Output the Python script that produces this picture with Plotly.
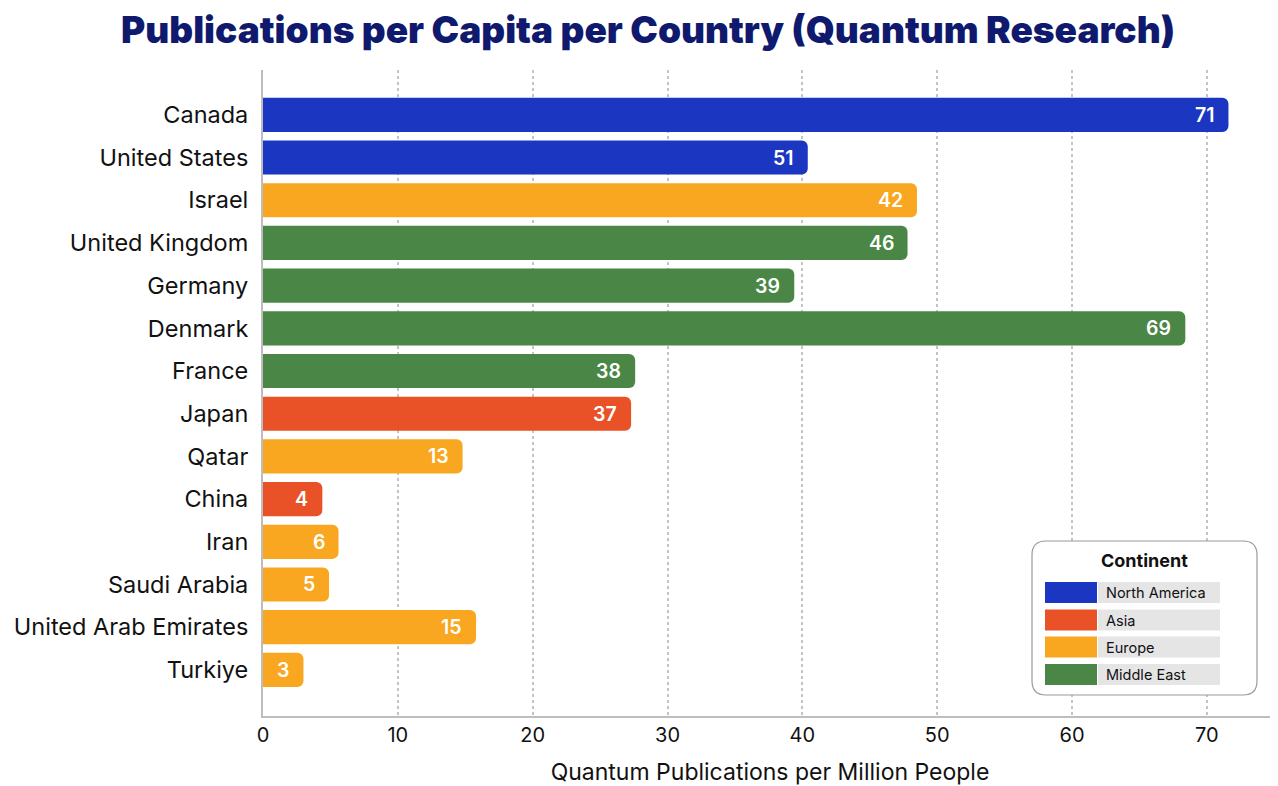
import plotly.graph_objects as go

countries = ["Canada", "United States", "Israel", "United Kingdom", "Germany", "Denmark",
             "France", "Japan", "Qatar", "China", "Iran", "Saudi Arabia",
             "United Arab Emirates", "Turkiye"]
bar_values = [71.6, 40.4, 48.5, 47.8, 39.4, 68.4, 27.6, 27.3, 14.8, 4.4, 5.6, 4.9, 15.8, 3.0]
label_values = ["71", "51", "42", "46", "39", "69", "38", "37", "13", "4", "6", "5", "15", "3"]
continent = ["North America", "North America", "Europe", "Middle East", "Middle East", "Middle East",
             "Middle East", "Asia", "Europe", "Asia", "Europe", "Europe", "Europe", "Europe"]

legend_order = ["North America", "Asia", "Europe", "Middle East"]
colors = {"North America": "#1b36c1", "Asia": "#e85226", "Europe": "#f9a720", "Middle East": "#4a8645"}
x_ticks = [0, 10, 20, 30, 40, 50, 60, 70]

FONT = "Inter"
OFF = 8  # page body margin
W, H = 1270, 778
ML, MR, MT, MB = 255, 1, 62, 70
PW, PH = W - ML - MR, H - MT - MB

def px(x):
    return (x - OFF - ML) / PW

def py(y):
    return 1 - (y - OFF - MT) / PH

fig = go.Figure()
fig.add_trace(go.Bar(
    x=bar_values, y=countries, orientation="h",
    marker=dict(color=[colors[c] for c in continent], cornerradius=6, line=dict(width=0)),
    width=0.8, showlegend=False, hoverinfo="x+y",
))

annotations = []
for c, v, t in zip(countries, bar_values, label_values):
    annotations.append(dict(x=v, y=c, xref="x", yref="y", text=t, showarrow=False,
                            xanchor="right", xshift=-12,
                            font=dict(family=FONT, size=19.5, color="white", weight=600)))

shapes = []
# legend box
x0, x1, y0, y1, r = 1032, 1257, 541, 695, 14
rx, ry = r / PW, r / PH
X0, X1, Y0, Y1 = px(x0), px(x1), py(y1), py(y0)
path = (f"M {X0+rx} {Y1} L {X1-rx} {Y1} Q {X1} {Y1} {X1} {Y1-ry} "
        f"L {X1} {Y0+ry} Q {X1} {Y0} {X1-rx} {Y0} L {X0+rx} {Y0} "
        f"Q {X0} {Y0} {X0} {Y0+ry} L {X0} {Y1-ry} Q {X0} {Y1} {X0+rx} {Y1} Z")
shapes.append(dict(type="path", xref="paper", yref="paper", path=path,
                   fillcolor="white", line=dict(color="#9a9a9a", width=1.2), layer="above"))
annotations.append(dict(x=px(1144), y=py(560), xref="paper", yref="paper", text="Continent",
                        showarrow=False, xanchor="center", yanchor="middle",
                        font=dict(family=FONT, size=18, color="#111", weight=700)))
row_centers = [592.5, 620, 647, 674.5]
for name, yc in zip(legend_order, row_centers):
    shapes.append(dict(type="rect", xref="paper", yref="paper",
                       x0=px(1098), x1=px(1220), y0=py(yc + 10.5), y1=py(yc - 10.5),
                       fillcolor="#e5e5e5", line=dict(width=0), layer="above"))
    shapes.append(dict(type="rect", xref="paper", yref="paper",
                       x0=px(1045), x1=px(1097), y0=py(yc + 10.5), y1=py(yc - 10.5),
                       fillcolor=colors[name], line=dict(width=0), layer="above"))
    annotations.append(dict(x=px(1104), y=py(yc), xref="paper", yref="paper", text=name,
                            showarrow=False, xanchor="left", yanchor="middle",
                            font=dict(family=FONT, size=14.5, color="#111")))

fig.update_layout(
    width=W, height=H,
    margin=dict(l=ML, r=MR, t=MT, b=MB),
    paper_bgcolor="white", plot_bgcolor="white",
    title=dict(text="Publications per Capita per Country (Quantum Research)",
               x=0.5 + 5 / W, xref="container", xanchor="center",
               y=1 - 22 / H, yanchor="middle",
               font=dict(family=FONT, size=37, color="#0f1a6e", weight=900)),
    xaxis=dict(range=[0, 75.2], tickvals=x_ticks, ticktext=[str(t) for t in x_ticks],
               showgrid=True, gridcolor="#c4c4c4", griddash="dot", gridwidth=2,
               zeroline=False, showline=True, linecolor="#bdbdbd", linewidth=2,
               ticks="", ticklen=0,
               tickfont=dict(family=FONT, size=20, color="#111"),
               title=dict(text="Quantum Publications per Million People", standoff=20,
                          font=dict(family=FONT, size=23, color="#111"))),
    yaxis=dict(categoryorder="array", categoryarray=countries, range=[14.08, -1.05],
               showgrid=False, zeroline=False, showline=True, linecolor="#bdbdbd", linewidth=2,
               ticks="", ticklabelstandoff=8,
               tickfont=dict(family=FONT, size=23.5, color="#111")),
    shapes=shapes, annotations=annotations,
    bargap=0.2,
)

fig.write_html("out.html")
